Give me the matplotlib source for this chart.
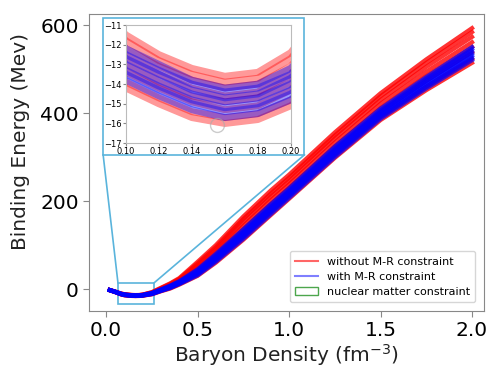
"""Binding energy vs baryon density with and without M-R constraint."""
import matplotlib
matplotlib.use("Agg")
import matplotlib.pyplot as plt
from matplotlib.lines import Line2D
from matplotlib.patches import Patch, Rectangle

density = [0.02, 0.05, 0.08, 0.10, 0.12, 0.14, 0.16, 0.18, 0.20, 0.25, 0.30,
           0.35, 0.40, 0.50, 0.60, 0.75, 0.90, 1.00, 1.25, 1.50, 1.75, 2.00]

# curves without the M-R constraint (bottom to top)
red_curves = [
    [-2.8, -7.0, -12.0, -14.2, -15.0, -15.7, -16.0, -15.8, -15.1, -12.0, -5.0, 1.0, 10.0, 30.0, 60.0, 112, 168, 205, 298, 384, 452, 514],
    [-2.7, -6.8, -11.7, -13.9, -14.7, -15.4, -15.7, -15.5, -14.8, -11.4, -4.0, 2.4, 11.8, 33.8, 64.8, 118, 175, 212, 305, 391, 460, 523],
    [-2.6, -6.6, -11.3, -13.4, -14.2, -14.9, -15.3, -15.1, -14.3, -10.5, -2.6, 4.6, 14.5, 39.6, 72.0, 128, 185, 222, 315, 402, 473, 538],
    [-2.4, -6.4, -11.0, -13.0, -13.9, -14.6, -14.9, -14.7, -13.9, -9.8, -1.4, 6.4, 16.8, 44.4, 78.0, 136, 193, 230, 324, 411, 484, 550],
    [-2.3, -6.2, -10.7, -12.6, -13.5, -14.2, -14.6, -14.4, -13.5, -9.0, -0.2, 8.2, 19.0, 49.2, 84.0, 144, 202, 238, 333, 421, 494, 561],
    [-2.2, -5.9, -10.4, -12.2, -13.1, -13.8, -14.2, -14.0, -13.1, -8.3, 1.0, 10.0, 21.3, 54.0, 90.0, 152, 210, 246, 342, 430, 505, 573],
    [-2.1, -5.8, -10.1, -11.8, -12.8, -13.5, -13.9, -13.7, -12.7, -7.6, 2.0, 11.6, 23.2, 58.2, 95.2, 159, 217, 253, 349, 438, 514, 584],
    [-2.0, -5.6, -9.8, -11.5, -12.5, -13.2, -13.6, -13.4, -12.4, -7.0, 3.0, 13.0, 25.0, 62.0, 100.0, 165, 224, 260, 356, 445, 522, 593],
]

# curves with the M-R constraint (bottom to top)
blue_curves = [
    [-2.7, -6.9, -11.6, -13.8, -14.6, -15.3, -15.7, -15.5, -14.8, -11.6, -4.5, 2.0, 11.0, 31.0, 62.0, 114, 170, 207, 300, 387, 456, 520],
    [-2.6, -6.7, -11.4, -13.5, -14.3, -15.0, -15.4, -15.2, -14.5, -11.1, -3.8, 3.0, 12.2, 33.3, 65.0, 118, 174, 211, 304, 391, 460, 525],
    [-2.5, -6.6, -11.2, -13.3, -14.1, -14.8, -15.2, -15.0, -14.3, -10.6, -3.2, 4.0, 13.3, 35.7, 68.0, 121, 178, 214, 308, 395, 465, 530],
    [-2.45, -6.4, -11.0, -13.0, -13.8, -14.5, -14.9, -14.7, -14.0, -10.1, -2.5, 5.0, 14.5, 38.0, 71.0, 125, 181.5, 218, 312, 398, 469, 535],
    [-2.4, -6.2, -10.7, -12.7, -13.5, -14.3, -14.7, -14.5, -13.7, -9.6, -1.8, 6.0, 15.7, 40.3, 74.0, 129, 185, 222, 316, 402, 473, 540],
    [-2.3, -6.1, -10.5, -12.5, -13.3, -14.0, -14.4, -14.2, -13.5, -9.1, -1.2, 7.0, 16.8, 42.7, 77.0, 132, 189, 225, 320, 406, 478, 545],
    [-2.2, -5.9, -10.3, -12.2, -13.0, -13.8, -14.2, -14.0, -13.2, -8.6, -0.5, 8.0, 18.0, 45.0, 80.0, 136, 193, 229, 324, 410, 482, 550],
]

saturation = (0.155, -16.1)

xticks = [0.0, 0.5, 1.0, 1.5, 2.0]
yticks = [0, 200, 400, 600]
inset_xticks = [0.10, 0.12, 0.14, 0.16, 0.18, 0.20]
inset_yticks = [-11, -12, -13, -14, -15, -16, -17]

box_col = "#5ab4dc"
spine_col = "#888888"

fig = plt.figure(figsize=(4.92, 3.69), dpi=100)
ax = fig.add_axes([0.181, 0.157, 0.803, 0.805])

for c in red_curves:
    ax.plot(density, c, color="red", alpha=0.8, lw=3)
for c in blue_curves:
    ax.plot(density, c, color="blue", alpha=0.7, lw=3)

ax.set_xlim(-0.093, 2.066)
ax.set_ylim(-50, 625)
ax.set_xticks(xticks)
ax.set_yticks(yticks)
ax.tick_params(labelsize=14.5, color=spine_col, length=4)
for s in ax.spines.values():
    s.set_color(spine_col)
ax.set_xlabel("Baryon Density (fm$^{-3}$)", fontsize=14.5, color="#222222")
ax.set_ylabel("Binding Energy (Mev)", fontsize=14.5, color="#222222")
ax.yaxis.set_label_coords(-0.15, 0.57)
ax.xaxis.set_label_coords(0.5, -0.105)

# zoom region and the frame around the inset
ax.add_patch(Rectangle((0.065, -34), 0.197, 48, fill=False, ec=box_col, lw=1.2))
ax.add_patch(Rectangle((-0.016, 305), 1.1, 311, fill=False, ec=box_col, lw=1.2, zorder=5))
ax.plot([0.065, -0.016], [14, 305], color=box_col, lw=1.2)
ax.plot([0.262, 1.084], [14, 305], color=box_col, lw=1.2)

handles = [
    Line2D([], [], color="red", alpha=0.6, lw=1.5),
    Line2D([], [], color="blue", alpha=0.5, lw=1.5),
    Patch(facecolor="none", edgecolor="green", alpha=0.7),
]
ax.legend(handles, ["without M-R constraint", "with M-R constraint",
                    "nuclear matter constraint"],
          loc="lower right", fontsize=8, frameon=True, borderpad=0.5,
          borderaxespad=0.8, handlelength=2.0, labelspacing=0.45,
          edgecolor="#cccccc")

# inset
ins = fig.add_axes([0.256, 0.612, 0.335, 0.320])
ins.set_facecolor("white")
for c in red_curves:
    ins.plot(density, c, color="red", alpha=0.4, lw=5)
for c in blue_curves:
    ins.plot(density, c, color="blue", alpha=0.4, lw=5)
ins.plot(*saturation, marker="o", ms=10, mfc="none", mec="#aaaaaa", alpha=0.6)
ins.set_xlim(0.10, 0.20)
ins.set_ylim(-17, -11)
ins.set_xticks(inset_xticks)
ins.set_yticks(inset_yticks)
ins.tick_params(labelsize=6, length=2, pad=1, color=spine_col)
for s in ins.spines.values():
    s.set_color("#bbbbbb")

fig.savefig("out.png", dpi=100)
